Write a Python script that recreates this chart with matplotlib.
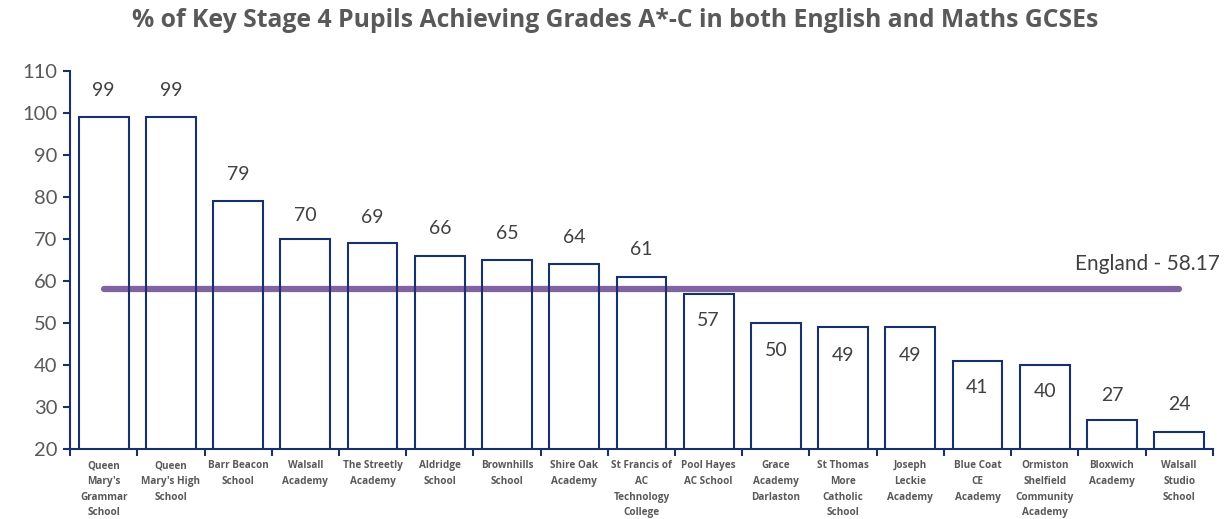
import matplotlib
matplotlib.use("Agg")
import matplotlib.pyplot as plt
import numpy as np

schools = [
    "Queen\nMary's\nGrammar\nSchool", "Queen\nMary's High\nSchool", "Barr Beacon\nSchool",
    "Walsall\nAcademy", "The Streetly\nAcademy", "Aldridge\nSchool", "Brownhills\nSchool",
    "Shire Oak\nAcademy", "St Francis of\nAC\nTechnology\nCollege", "Pool Hayes\nAC School",
    "Grace\nAcademy\nDarlaston", "St Thomas\nMore\nCatholic\nSchool", "Joseph\nLeckie\nAcademy",
    "Blue Coat\nCE\nAcademy", "Ormiston\nShelfield\nCommunity\nAcademy", "Bloxwich\nAcademy",
    "Walsall\nStudio\nSchool",
]
pct_a_c = [99, 99, 79, 70, 69, 66, 65, 64, 61, 57, 50, 49, 49, 41, 40, 27, 24]
england_avg = 58.17

# label offsets from bar top, in pixels (Excel put the mid ones inside the bar)
label_offsets = [27, 27, 27, 24, 26, 27, 27, 27, 27, -27, -28, -28, -28, -27, -27, 24, 28]

navy = "#17306E"
purple = "#8064A2"
grey = "#404040"
plt.rcParams["font.family"] = ["Lato", "DejaVu Sans"]
bold_font = ["Open Sans", "DejaVu Sans"]

fig = plt.figure(figsize=(12.3, 5.19), dpi=100)
ax = fig.add_axes([0.057, 0.135, 0.929, 0.728])

x = np.arange(len(schools))
bars = ax.bar(x, pct_a_c, width=0.74, bottom=0, facecolor="none",
              edgecolor=navy, linewidth=1.5, zorder=3)

for xi, v, off in zip(x, pct_a_c, label_offsets):
    ax.annotate(str(v), (xi, v), xytext=(0, off), textcoords="offset pixels",
                ha="center", va="center", fontsize=14, color=grey, zorder=4)

n = len(schools)
# England line runs from the first bar's centre to the last one's
ax.plot([x[0], x[-1]], [england_avg, england_avg], color=purple, lw=4.5,
        solid_capstyle="round", zorder=2)
ax.text(n - 0.4, england_avg + 3.5, f"England - {england_avg}", ha="right",
        va="bottom", fontsize=15, color=grey)

ax.set_xlim(-0.5, n - 0.5)
ax.set_ylim(20, 110)
ax.set_yticks(range(20, 111, 10))
ax.tick_params(axis="y", labelsize=14.5, labelcolor="#595959", color=navy,
               direction="out", length=5, width=1.5, pad=4)

ax.set_xticks(x)
ax.set_xticklabels(schools, fontsize=7.2, fontweight="bold", color="#595959",
                   linespacing=1.6, va="top", family=bold_font)
ax.tick_params(axis="x", length=0, pad=8)
ax.set_xticks(np.arange(-0.5, n, 1), minor=True)
ax.tick_params(axis="x", which="minor", length=5, width=1.5, color=navy)

for s in ["top", "right"]:
    ax.spines[s].set_visible(False)
for s in ["left", "bottom"]:
    ax.spines[s].set_color(navy)
    ax.spines[s].set_linewidth(1.5)

fig.suptitle("% of Key Stage 4 Pupils Achieving Grades A*-C in both English and Maths GCSEs",
             x=0.5, y=0.985, fontsize=17.8, fontweight="bold", color="#595959", va="top",
             family=bold_font)

fig.savefig("out.png", dpi=100)
